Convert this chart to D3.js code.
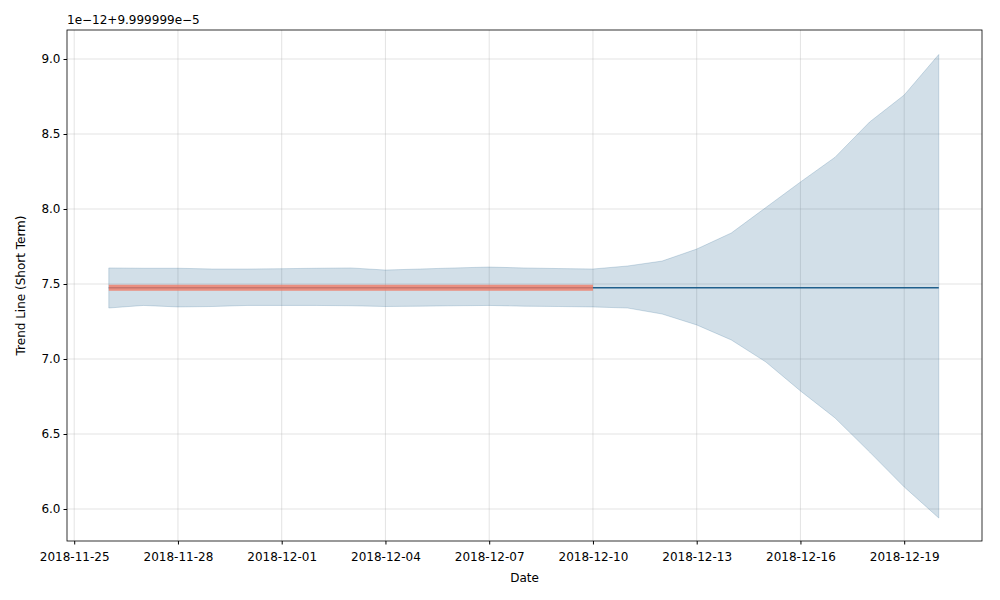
<!DOCTYPE html>
<html><head><meta charset="utf-8">
<script src="https://cdn.jsdelivr.net/npm/d3@7"></script>
<style>body{margin:0;background:#fff;font-family:"DejaVu Sans",sans-serif;}</style>
</head><body><svg></svg>
<script>
var dates = ["2018-11-26","2018-11-27","2018-11-28","2018-11-29","2018-11-30","2018-12-01","2018-12-02","2018-12-03","2018-12-04","2018-12-05","2018-12-06","2018-12-07","2018-12-08","2018-12-09","2018-12-10","2018-12-11","2018-12-12","2018-12-13","2018-12-14","2018-12-15","2018-12-16","2018-12-17","2018-12-18","2018-12-19","2018-12-20"];
var trend = 7.475;
var upper = [7.607,7.605,7.605,7.600,7.600,7.602,7.605,7.607,7.593,7.600,7.607,7.613,7.607,7.603,7.600,7.620,7.653,7.733,7.840,8.010,8.180,8.345,8.580,8.760,9.030];
var lower = [7.340,7.357,7.347,7.350,7.357,7.357,7.357,7.355,7.350,7.352,7.355,7.357,7.352,7.350,7.347,7.340,7.300,7.227,7.127,6.980,6.787,6.607,6.380,6.147,5.940];
var histEnd = "2018-12-10";
var xTicks = ["2018-11-25","2018-11-28","2018-12-01","2018-12-04","2018-12-07","2018-12-10","2018-12-13","2018-12-16","2018-12-19"];
var yTicks = [6.0,6.5,7.0,7.5,8.0,8.5,9.0];

var parse = d3.timeParse("%Y-%m-%d");
var width = 1000, height = 600;
var svg = d3.select("svg").attr("width",width).attr("height",height);
var L = 67, R = 982, T = 30, B = 541;

var xScale = d3.scaleTime()
   .domain([d3.timeHour.offset(parse("2018-11-25"),-5), d3.timeHour.offset(parse("2018-12-20"),30)])
   .range([L,R]);
var yScale = d3.scaleLinear().domain([6.0 - (541-509)/150, 6.0 + (509-30)/150]).range([B,T]);

var data = dates.map(function(d,i){ return {date:parse(d), up:upper[i], lo:lower[i]}; });

// grid
svg.append("g").selectAll("line").data(xTicks).enter().append("line")
   .attr("x1",function(d){return xScale(parse(d));}).attr("x2",function(d){return xScale(parse(d));})
   .attr("y1",T).attr("y2",B).attr("stroke","#b0b0b0").attr("stroke-opacity",0.35);
svg.append("g").selectAll("line").data(yTicks).enter().append("line")
   .attr("y1",function(d){return yScale(d);}).attr("y2",function(d){return yScale(d);})
   .attr("x1",L).attr("x2",R).attr("stroke","#b0b0b0").attr("stroke-opacity",0.35);

var area = d3.area().x(function(d){return xScale(d.date);})
   .y0(function(d){return yScale(d.lo);}).y1(function(d){return yScale(d.up);});
svg.append("path").datum(data).attr("d",area)
   .attr("fill","#1f5f8b").attr("fill-opacity",0.2).attr("stroke","#1f5f8b").attr("stroke-opacity",0.2);

var hist = data.filter(function(d){ return d.date <= parse(histEnd); });
var line = d3.line().x(function(d){return xScale(d.date);}).y(function(){return yScale(trend);});
svg.append("path").datum(data).attr("d",line).attr("fill","none")
   .attr("stroke","#1f5f8b").attr("stroke-width",1.6);
svg.append("path").datum(hist).attr("d",line).attr("fill","none")
   .attr("stroke","#f07a65").attr("stroke-opacity",0.8).attr("stroke-width",6);

var xAxis = d3.axisBottom(xScale).tickValues(xTicks.map(parse)).tickFormat(d3.timeFormat("%Y-%m-%d")).tickSizeOuter(0).tickSize(3.5);
var gx = svg.append("g").attr("transform","translate(0,"+B+")").call(xAxis);
var yAxis = d3.axisLeft(yScale).tickValues(yTicks).tickFormat(d3.format(".1f")).tickSizeOuter(0).tickSize(3.5);
var gy = svg.append("g").attr("transform","translate("+L+",0)").call(yAxis);
[gx,gy].forEach(function(g){
  g.selectAll("text").attr("font-size",12).attr("font-family","DejaVu Sans").attr("fill","#000");
  g.select(".domain").remove();
});
gx.selectAll("text").attr("dy","1.1em");

svg.append("rect").attr("x",L).attr("y",T).attr("width",R-L).attr("height",B-T)
   .attr("fill","none").attr("stroke","#000").attr("stroke-width",0.8);

svg.append("text").text("Date").attr("x",(L+R)/2).attr("y",582).attr("text-anchor","middle").attr("font-size",12);
svg.append("text").text("Trend Line (Short Term)").attr("transform","translate(25,"+(T+B)/2+") rotate(-90)")
   .attr("text-anchor","middle").attr("font-size",12);
svg.append("text").text("1e\u221212+9.999999e\u22125").attr("x",L).attr("y",24).attr("font-size",12);
</script>
</body></html>
